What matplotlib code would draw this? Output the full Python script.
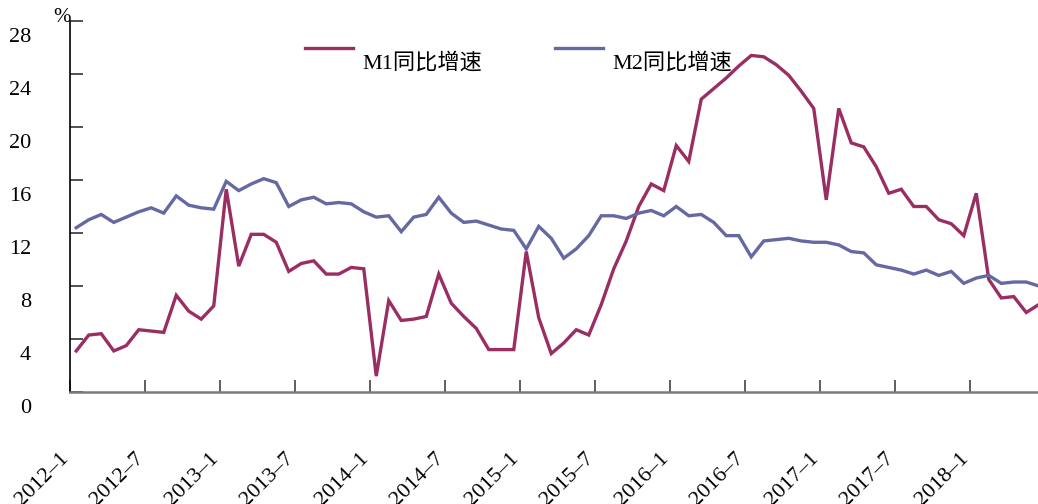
import matplotlib
matplotlib.use("Agg")
import matplotlib.pyplot as plt
from matplotlib.lines import Line2D
from matplotlib.transforms import ScaledTranslation

plt.rcParams['font.family'] = ['Liberation Serif', 'Noto Sans CJK SC', 'DejaVu Sans']

# ---- data (monthly, 2012-1 .. 2018-6) ----
m1 = [3.1, 4.3, 4.4, 3.1, 3.5, 4.7, 4.6, 4.5, 7.3, 6.1, 5.5, 6.5,
      15.3, 9.5, 11.9, 11.9, 11.3, 9.1, 9.7, 9.9, 8.9, 8.9, 9.4, 9.3,
      1.2, 6.9, 5.4, 5.5, 5.7, 8.9, 6.7, 5.7, 4.8, 3.2, 3.2, 3.2,
      10.6, 5.6, 2.9, 3.7, 4.7, 4.3, 6.6, 9.3, 11.4, 14.0, 15.7, 15.2,
      18.6, 17.4, 22.1, 22.9, 23.7, 24.6, 25.4, 25.3, 24.7, 23.9, 22.7, 21.4,
      14.5, 21.4, 18.8, 18.5, 17.0, 15.0, 15.3, 14.0, 14.0, 13.0, 12.7, 11.8,
      15.0, 8.5, 7.1, 7.2, 6.0, 6.6]
m2 = [12.4, 13.0, 13.4, 12.8, 13.2, 13.6, 13.9, 13.5, 14.8, 14.1, 13.9, 13.8,
      15.9, 15.2, 15.7, 16.1, 15.8, 14.0, 14.5, 14.7, 14.2, 14.3, 14.2, 13.6,
      13.2, 13.3, 12.1, 13.2, 13.4, 14.7, 13.5, 12.8, 12.9, 12.6, 12.3, 12.2,
      10.8, 12.5, 11.6, 10.1, 10.8, 11.8, 13.3, 13.3, 13.1, 13.5, 13.7, 13.3,
      14.0, 13.3, 13.4, 12.8, 11.8, 11.8, 10.2, 11.4, 11.5, 11.6, 11.4, 11.3,
      11.3, 11.1, 10.6, 10.5, 9.6, 9.4, 9.2, 8.9, 9.2, 8.8, 9.1, 8.2,
      8.6, 8.8, 8.2, 8.3, 8.3, 8.0]
tick_labels = ["2012–1", "2012–7", "2013–1", "2013–7", "2014–1", "2014–7",
               "2015–1", "2015–7", "2016–1", "2016–7", "2017–1", "2017–7",
               "2018–1"]
y_ticks = [0, 4, 8, 12, 16, 20, 24, 28]
series_names = ["M1同比增速", "M2同比增速"]

c_m1 = "#9a2e62"
c_m2 = "#6668a2"

W, H, DPI = 1038, 504, 100
fig = plt.figure(figsize=(W / DPI, H / DPI), dpi=DPI)
# axis spans beyond right edge of the figure like the reference
ax = fig.add_axes([70 / W, (H - 392) / H, 975 / W, 371 / H])

x = list(range(len(m1)))
ax.plot(x, m1, color=c_m1, lw=2.4, solid_joinstyle='miter', clip_on=False)
ax.plot(x, m2, color=c_m2, lw=2.4, solid_joinstyle='miter', clip_on=False)

ax.set_xlim(-0.5, len(m1) - 0.5)
ax.set_ylim(0, 28)

for s in ['top', 'right']:
    ax.spines[s].set_visible(False)
ax.spines['left'].set_color('black')
ax.spines['left'].set_linewidth(1.2)
ax.spines['bottom'].set_color('#7a7a7a')
ax.spines['bottom'].set_linewidth(1.8)

# y ticks
ax.set_yticks(y_ticks)
ax.set_yticklabels([str(v) for v in y_ticks])
ax.tick_params(axis='y', direction='in', length=9, width=1.1, color='#222222',
               pad=28, labelsize=16)
for lab in ax.get_yticklabels():
    lab.set_transform(lab.get_transform() + ScaledTranslation(0, -14 / DPI, fig.dpi_scale_trans))

# x ticks at category boundaries every 6 months
xt = [i * 6 - 0.5 for i in range(len(tick_labels))]
ax.set_xticks(xt)
ax.set_xticklabels(tick_labels, rotation=45, ha='right', va='top')
ax.tick_params(axis='x', direction='in', length=9, width=1.1, color='#333333',
               pad=41, labelsize=16)
for lab in ax.get_xticklabels():
    lab.set_transform(lab.get_transform() + ScaledTranslation(3 / DPI, 0, fig.dpi_scale_trans))

# percent unit
ax.annotate('%', xy=(0, 1), xycoords='axes fraction', xytext=(1, 3),
            textcoords='offset pixels', ha='right', va='center', fontsize=15)

# manual legend (text sits below-right of the line sample)
def fx(px):
    return px / W

def fy(py):
    return (H - py) / H

for (x0, x1, tx), col, name in zip([(305, 353, 362), (555, 603, 612)], [c_m1, c_m2], series_names):
    fig.add_artist(Line2D([fx(x0), fx(x1)], [fy(47.5), fy(47.5)], color=col, lw=2.4,
                          transform=fig.transFigure))
    fig.text(fx(tx), fy(63), name, ha='left', va='center', fontsize=16)

fig.savefig("out.png", dpi=DPI)
